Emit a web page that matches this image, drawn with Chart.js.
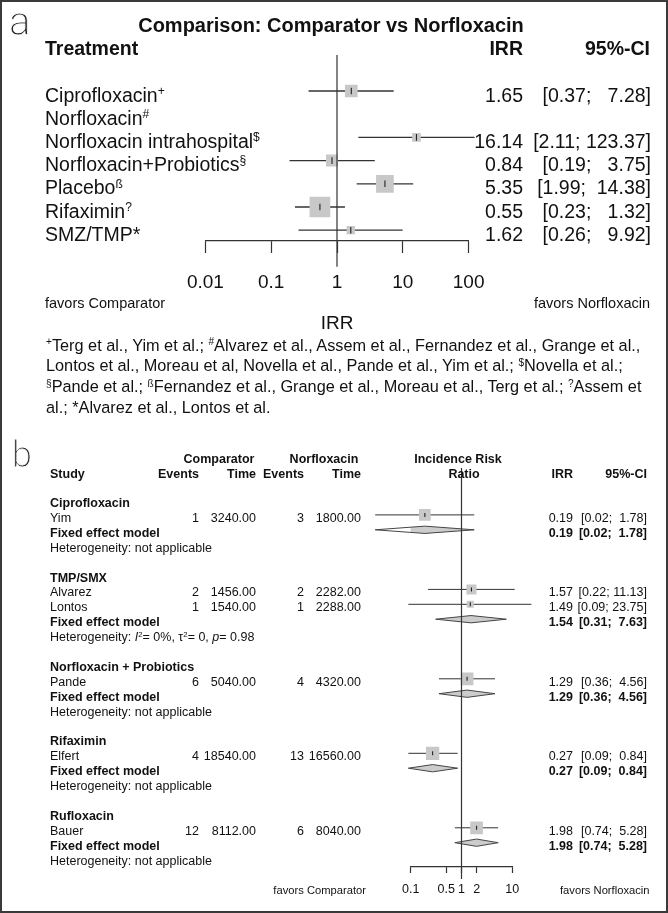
<!DOCTYPE html>
<html lang="en">
<head>
<meta charset="UTF-8">
<title>Comparison: Comparator vs Norfloxacin</title>
<script src="https://cdn.jsdelivr.net/npm/chart.js"></script>
<style>
  body { margin: 0; background: #fff; }
  #fig { position: relative; width: 668px; height: 913px; overflow: hidden;
         font-family: 'Liberation Sans', Arial, Helvetica, sans-serif; color: #111; }
  #fig canvas { position: absolute; left: 0; top: 0; }
  #frame { position: absolute; left: 0; top: 0; width: 668px; height: 913px;
           box-sizing: border-box; border: 2px solid #3a3a3a; }
  .t { position: absolute; white-space: pre; }
  .sup { font-size: 0.62em; position: relative; top: -0.55em; }
  .panel { font-family: 'DejaVu Sans ExtraLight', 'Roboto Light', 'Open Sans Light', Roboto, sans-serif;
           font-weight: 200; color: #222; -webkit-text-stroke: 0.8px #fff; }
</style>
</head>
<body>
<div id="fig">
  <canvas id="plotA" width="668" height="913" style="width:668px;height:913px"></canvas>
  <canvas id="plotB" width="668" height="913" style="width:668px;height:913px"></canvas>
  <div id="frame"></div>
</div>
<script>
// ---------- panel a: network estimates vs norfloxacin ----------
const treatments = ['Ciprofloxacin', 'Norfloxacin', 'Norfloxacin intrahospital', 'Norfloxacin+Probiotics', 'Placebo', 'Rifaximin', 'SMZ/TMP*']
const treatmentMarks = ['+', '#', '$', '§', 'ß', '?', '']
const irrA = [1.65, null, 16.14, 0.84, 5.35, 0.55, 1.62]
const lowerA = [0.37, null, 2.11, 0.19, 1.99, 0.23, 0.26]
const upperA = [7.28, null, 123.37, 3.75, 14.38, 1.32, 9.92]
const weightA = [13.4, null, 6.3, 12.0, 26.0, 35.6, 5.7]
const tickValuesA = [0.01, 0.1, 1, 10, 100]
const tickLabelsA = ['0.01', '0.1', '1', '10', '100']
const footnoteLines = [
  '<span class="sup">+</span>Terg et al., Yim et al.; <span class="sup">#</span>Alvarez et al., Assem et al., Fernandez et al., Grange et al.,',
  'Lontos et al., Moreau et al, Novella et al., Pande et al., Yim et al.; <span class="sup">$</span>Novella et al.;',
  '<span class="sup">§</span>Pande et al.; <span class="sup">ß</span>Fernandez et al., Grange et al., Moreau et al., Terg et al.; <span class="sup">?</span>Assem et',
  'al.; *Alvarez et al., Lontos et al.'
]

// ---------- panel b: pairwise meta-analysis ----------
const groups = ['Ciprofloxacin', 'TMP/SMX', 'Norfloxacin + Probiotics', 'Rifaximin', 'Rufloxacin']
const studies = ['Yim', 'Alvarez', 'Lontos', 'Pande', 'Elfert', 'Bauer']
const studyGroup = [0, 1, 1, 2, 3, 4]
const eventsComp = [1, 2, 1, 6, 4, 12]
const timeComp = [3240, 1456, 1540, 5040, 18540, 8112]
const eventsNor = [3, 2, 1, 4, 13, 6]
const timeNor = [1800, 2282, 2288, 4320, 16560, 8040]
const irrB = [0.19, 1.57, 1.49, 1.29, 0.27, 1.98]
const lowerB = [0.02, 0.22, 0.09, 0.36, 0.09, 0.74]
const upperB = [1.78, 11.13, 23.75, 4.56, 0.84, 5.28]
const weightB = [17.4, 12.7, 6.2, 20.5, 22.5, 20.5]
const fixedIrr = [0.19, 1.54, 1.29, 0.27, 1.98]
const fixedLower = [0.02, 0.31, 0.36, 0.09, 0.74]
const fixedUpper = [1.78, 7.63, 4.56, 0.84, 5.28]
const hetI2 = [null, 0, null, null, null]
const hetTau2 = [null, 0, null, null, null]
const hetP = [null, 0.98, null, null, null]
const tickValuesB = [0.1, 0.5, 1, 2, 10]
const tickLabelsB = ['0.1', '0.5', '1', '2', '10']

// ---------- layout ----------
const W = 668, H = 913
const FONT = "'Liberation Sans', Arial, sans-serif"
const A = { left: 205.4, right: 468.6, top: 55, axis: 241, row0: 91, rowH: 23.2, refEnd: 266.7, txt: 4 }
const B = { left: 410.7, right: 512.3, top: 468, axis: 866.7, row0: 500, rowH: 14.9, refEnd: 879, txt: 3 }

const fig = document.getElementById('fig')
function put(html, x, y, size, opt = {}) {
  const d = document.createElement('div')
  d.className = 't' + (opt.cls ? ' ' + opt.cls : '')
  d.innerHTML = html
  const lh = Math.round(size * 1.3)
  d.style.fontSize = size + 'px'
  d.style.lineHeight = lh + 'px'
  if (opt.bold) d.style.fontWeight = 'bold'
  d.style.top = (y - lh / 2) + 'px'
  if (opt.align === 'right') d.style.right = (W - x) + 'px'
  else if (opt.align === 'center') { d.style.left = (x - 300) + 'px'; d.style.width = '600px'; d.style.textAlign = 'center' }
  else d.style.left = x + 'px'
  fig.appendChild(d)
}
const f2 = v => v.toFixed(2)
function ciText(lo, hi, width) { return '[' + f2(lo) + '; ' + f2(hi).padStart(width) + ']' }

// ---------- panel a texts ----------
put('a', 9, 22, 40, { cls: 'panel' })
put('Comparison: Comparator vs Norfloxacin', 331, 24.5, 20, { bold: true, align: 'center' })
put('Treatment', 45, 48, 19.5, { bold: true })
put('IRR', 523, 48, 19.5, { bold: true, align: 'right' })
put('95%-CI', 650, 48, 19.5, { bold: true, align: 'right' })
const wideA = Math.max(...upperA.filter(v => v != null).map(v => f2(v).length))
treatments.forEach((name, i) => {
  const y = A.row0 + A.rowH * i + A.txt
  const mark = treatmentMarks[i] ? '<span class="sup">' + treatmentMarks[i] + '</span>' : ''
  put(name + mark, 45, y, 19.5)
  if (irrA[i] != null) {
    put(f2(irrA[i]), 523, y, 19.5, { align: 'right' })
    put(ciText(lowerA[i], upperA[i], wideA), 651, y, 19.5, { align: 'right' })
  }
})
put('favors Comparator', 45, 303, 14.5)
put('favors Norfloxacin', 650, 303, 14.5, { align: 'right' })
put('IRR', 337, 322, 19, { align: 'center' })
footnoteLines.forEach((l, i) => put(l, 46, 345 + i * 20.8, 16.3))

// ---------- panel b rows ----------
const rowsB = []
let r = 0
groups.forEach((g, gi) => {
  rowsB.push({ kind: 'group', gi, r: r++ })
  studies.forEach((s, si) => { if (studyGroup[si] === gi) rowsB.push({ kind: 'study', si, r: r++ }) })
  rowsB.push({ kind: 'fixed', gi, r: r++ })
  rowsB.push({ kind: 'het', gi, r: r++ })
  r++
})
const wideB = Math.max(...upperB.concat(fixedUpper).map(v => f2(v).length))

put('b', 12, 455, 36, { cls: 'panel' })
put('Comparator', 219, 459, 12.5, { bold: true, align: 'center' })
put('Norfloxacin', 324, 459, 12.5, { bold: true, align: 'center' })
put('Incidence Risk', 458, 459, 12.5, { bold: true, align: 'center' })
put('Study', 50, 474, 12.5, { bold: true })
put('Events', 199, 474, 12.5, { bold: true, align: 'right' })
put('Time', 256, 474, 12.5, { bold: true, align: 'right' })
put('Events', 304, 474, 12.5, { bold: true, align: 'right' })
put('Time', 361, 474, 12.5, { bold: true, align: 'right' })
put('Ratio', 464, 474, 12.5, { bold: true, align: 'center' })
put('IRR', 573, 474, 12.5, { bold: true, align: 'right' })
put('95%-CI', 647, 474, 12.5, { bold: true, align: 'right' })

rowsB.forEach(row => {
  const y = B.row0 + B.rowH * row.r + B.txt
  if (row.kind === 'group') put(groups[row.gi], 50, y, 12.5, { bold: true })
  if (row.kind === 'study') {
    const s = row.si
    put(studies[s], 50, y, 12.5)
    put(String(eventsComp[s]), 199, y, 12.5, { align: 'right' })
    put(f2(timeComp[s]), 256, y, 12.5, { align: 'right' })
    put(String(eventsNor[s]), 304, y, 12.5, { align: 'right' })
    put(f2(timeNor[s]), 361, y, 12.5, { align: 'right' })
    put(f2(irrB[s]), 573, y, 12.5, { align: 'right' })
    put(ciText(lowerB[s], upperB[s], wideB), 647, y, 12.5, { align: 'right' })
  }
  if (row.kind === 'fixed') {
    put('Fixed effect model', 50, y, 12.5, { bold: true })
    put(f2(fixedIrr[row.gi]), 573, y, 12.5, { bold: true, align: 'right' })
    put(ciText(fixedLower[row.gi], fixedUpper[row.gi], wideB), 647, y, 12.5, { bold: true, align: 'right' })
  }
  if (row.kind === 'het') {
    const g = row.gi
    const txt = hetI2[g] == null ? 'not applicable'
      : '<i>I</i><span class="sup">2</span>= ' + hetI2[g] + '%, τ<span class="sup">2</span>= ' + hetTau2[g] + ', <i>p</i>= ' + hetP[g]
    put('Heterogeneity: ' + txt, 50, y, 12.5)
  }
})
put('favors Comparator', 366, 890, 11.2, { align: 'right' })
put('favors Norfloxacin', 560, 890, 11.2)

// ---------- charts ----------
Chart.defaults.animation = false
Chart.defaults.font.family = FONT

function forestChart(canvas, P, o) {
  const yMin = (P.top - P.row0) / P.rowH
  const yMax = (P.axis - P.row0) / P.rowH
  const datasets = [
    { data: o.est.map((v, i) => ({ x: v, y: o.rows[i] })), showLine: false, pointStyle: 'line', pointRotation: 90,
      pointRadius: o.tickR, pointBorderColor: '#222', pointBorderWidth: 1.1, order: 0 },
    { data: [{ x: 1, y: yMin }, { x: 1, y: (P.refEnd - P.row0) / P.rowH }], borderColor: '#333', borderWidth: 1.2,
      pointRadius: 0, clip: false, order: 1 },
    { data: o.est.map((v, i) => ({ x: v, y: o.rows[i] })), showLine: false, pointStyle: 'rect',
      pointRadius: o.weight.map(w => o.k * Math.sqrt(w) / Math.SQRT2), pointBackgroundColor: '#c8c8c8',
      pointBorderWidth: 0, order: 2 }
  ]
  o.est.forEach((v, i) => datasets.push({
    data: [{ x: o.lo[i], y: o.rows[i] }, { x: o.hi[i], y: o.rows[i] }], borderColor: '#333', borderWidth: o.lw,
    pointRadius: 0, clip: false, order: 4 }))
  ;(o.diamonds || []).forEach(d => datasets.push({
    data: [{ x: d.lo, y: d.r }, { x: d.est, y: d.r - 0.245 }, { x: d.hi, y: d.r }, { x: d.est, y: d.r + 0.245 }, { x: d.lo, y: d.r }],
    borderColor: '#444', borderWidth: 1, backgroundColor: '#cccccc', fill: 'shape', pointRadius: 0, clip: false, order: 3 }))

  return new Chart(canvas, {
    type: 'line',
    data: { datasets },
    options: {
      responsive: false,
      events: [],
      layout: { padding: { left: P.left, right: W - P.right, top: P.top, bottom: H - P.axis - o.axisH } },
      plugins: { legend: { display: false }, tooltip: { enabled: false } },
      scales: {
        x: {
          type: 'logarithmic', min: o.ticks[0], max: o.ticks[o.ticks.length - 1],
          afterBuildTicks: s => { s.ticks = o.ticks.map(v => ({ value: v })) },
          afterFit: s => { s.height = o.axisH },
          ticks: { autoSkip: false, maxRotation: 0, padding: o.pad, color: '#111',
                   font: { size: o.fs }, callback: (v, i) => o.labels[i] },
          grid: { drawOnChartArea: false, drawTicks: true, tickLength: o.tl, tickColor: '#333', tickWidth: 1.2 },
          border: { display: true, color: '#333', width: 1.2 }
        },
        y: { type: 'linear', reverse: true, min: yMin, max: yMax, display: false }
      }
    }
  })
}

const idxA = irrA.map((v, i) => v == null ? -1 : i).filter(i => i >= 0)
forestChart(document.getElementById('plotA'), A, {
  rows: idxA, est: idxA.map(i => irrA[i]), lo: idxA.map(i => lowerA[i]), hi: idxA.map(i => upperA[i]),
  weight: idxA.map(i => weightA[i]), k: 3.47, tickR: 3.3, lw: 1.3,
  ticks: tickValuesA, labels: tickLabelsA, fs: 19, tl: 12, pad: 18.6, axisH: 50
})

const studyRows = studies.map((s, si) => rowsB.find(rw => rw.kind === 'study' && rw.si === si).r)
const fixedRows = groups.map((g, gi) => rowsB.find(rw => rw.kind === 'fixed' && rw.gi === gi).r)
forestChart(document.getElementById('plotB'), B, {
  rows: studyRows, est: irrB, lo: lowerB, hi: upperB, weight: weightB, k: 2.804, tickR: 2, lw: 1,
  diamonds: fixedIrr.map((v, gi) => ({ est: v, lo: fixedLower[gi], hi: fixedUpper[gi], r: fixedRows[gi] })),
  ticks: tickValuesB, labels: tickLabelsB, fs: 12.5, tl: 6.3, pad: 9.5, axisH: 30
})
</script>
</body>
</html>
